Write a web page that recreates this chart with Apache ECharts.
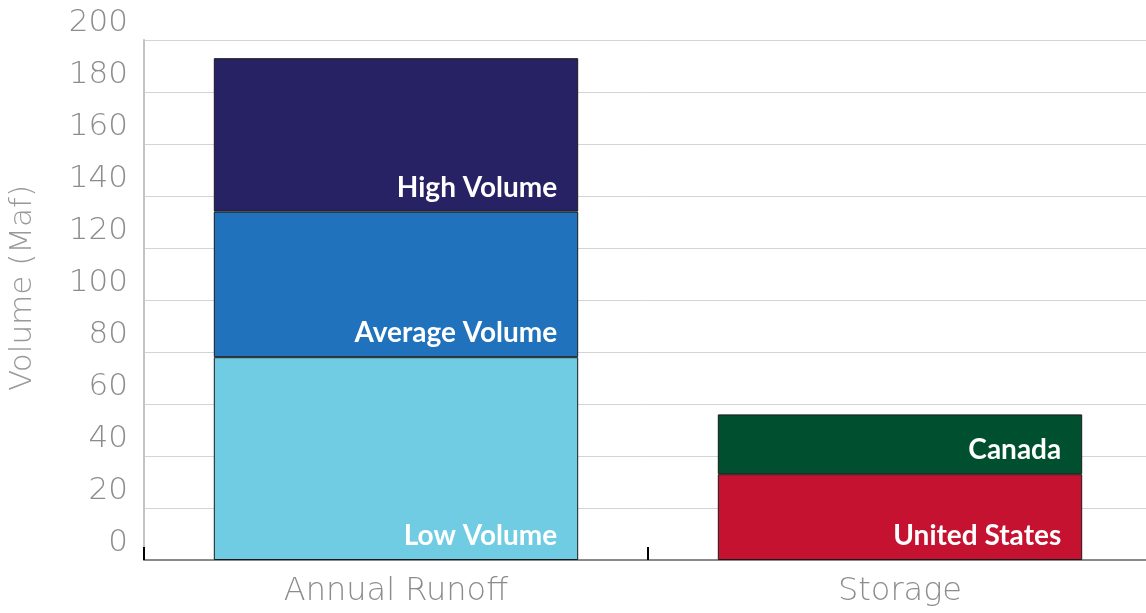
<!DOCTYPE html>
<html>
<head>
<meta charset="utf-8">
<script src="https://cdn.jsdelivr.net/npm/echarts@6/dist/echarts.min.js"></script>
<style>
  html, body { margin: 0; padding: 0; background: #fff; }
  #chart { width: 1146px; height: 613px; }
</style>
</head>
<body>
<div id="chart"></div>
<script>
  // categories along the x axis
  var categories = ['Annual Runoff', 'Storage'];

  // stacked segments, bottom to top (Maf)
  var lowVolume = [78, null];
  var averageVolume = [56, null];
  var highVolume = [59, null];
  var unitedStates = [null, 33];
  var canada = [null, 23];

  var yTicks = { min: 0, max: 200, step: 20 };

  var chart = echarts.init(document.getElementById('chart'));

  function segment(name, data, color) {
    return {
      name: name,
      type: 'bar',
      stack: 'total',
      barWidth: '72.3%',
      data: data,
      itemStyle: {
        color: color,
        borderColor: '#1a1a1a',
        borderWidth: 1
      },
      label: {
        show: true,
        position: 'insideBottomRight',
        distance: 10,
        padding: [0, 11, 0, 0],
        formatter: '{a}',
        color: '#fff',
        fontFamily: 'Lato',
        fontWeight: 'bold',
        fontSize: 28
      }
    };
  }

  chart.setOption({
    animation: false,
    grid: {
      left: 144,
      top: 40,
      width: 1008,
      height: 520,
      outerBoundsMode: 'none'
    },
    xAxis: {
      type: 'category',
      data: categories,
      axisLine: { lineStyle: { color: '#8a8a8a', width: 2 } },
      axisTick: {
        show: true,
        inside: true,
        length: 13,
        lineStyle: { color: '#000', width: 2 }
      },
      axisLabel: {
        margin: 16,
        color: '#8c8c8c',
        fontFamily: 'DejaVu Sans',
        fontWeight: 200,
        fontSize: 32
      }
    },
    yAxis: {
      type: 'value',
      min: yTicks.min,
      max: yTicks.max,
      interval: yTicks.step,
      name: 'Volume (Maf)',
      nameLocation: 'middle',
      nameGap: 106,
      nameTextStyle: {
        color: '#999',
        fontFamily: 'DejaVu Sans',
        fontWeight: 200,
        fontSize: 31,
        padding: [0, 0, 0, 24]
      },
      axisLine: { show: true, lineStyle: { color: '#c4c4c4', width: 2 } },
      axisTick: { show: false },
      splitLine: { lineStyle: { color: '#d4d4d4', width: 1 } },
      axisLabel: {
        margin: 16,
        showMinLabel: true,
        showMaxLabel: true,
        verticalAlign: 'bottom',
        lineHeight: 34,
        color: '#8c8c8c',
        fontFamily: 'DejaVu Sans',
        fontWeight: 200,
        fontSize: 31
      }
    },
    series: [
      segment('Low Volume', lowVolume, '#70cce3'),
      segment('Average Volume', averageVolume, '#1f72bb'),
      segment('High Volume', highVolume, '#272263'),
      segment('United States', unitedStates, '#c41230'),
      segment('Canada', canada, '#00502f')
    ]
  });
</script>
</body>
</html>
